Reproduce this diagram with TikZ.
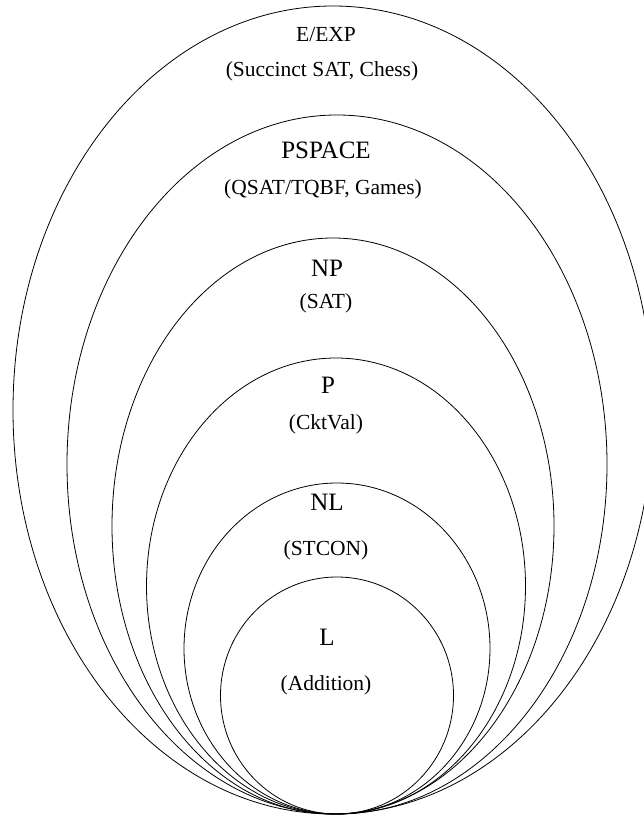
\documentclass[tikz,border=0pt]{standalone}
\usepackage{fontspec}
\setmainfont{Liberation Serif}
\begin{document}
\begin{tikzpicture}[x=1pt,y=-1pt,
  ring/.style={draw=black,line width=0.8pt},
  title/.style={anchor=base,inner sep=0pt,font=\fontsize{25}{30}\selectfont},
  sub/.style={anchor=base,inner sep=0pt,font=\fontsize{21.5}{26}\selectfont}]
\useasboundingbox (0,0) rectangle (644,816);
\clip (0,0) rectangle (644,816);
\fill[white] (0,0) rectangle (644,816);
% nested classes, all meeting at the bottom
\draw[ring] (333,410)   ellipse [x radius=320,   y radius=404];
\draw[ring] (337,464.5) ellipse [x radius=270,   y radius=349.5];
\draw[ring] (333,526)   ellipse [x radius=221,   y radius=288];
\draw[ring] (336,586)   ellipse [x radius=189.5, y radius=228];
\draw[ring] (337,648.5) ellipse [x radius=153,   y radius=165.5];
\draw[ring] (337,695.5) ellipse [x radius=116.5, y radius=118.5];
% labels
\node[sub]   (exp)     at (326,42)  {E/EXP};
\node[sub]   (expex)   at (322,77)  {(Succinct SAT, Chess)};
\node[title] (pspace)  at (326,158) {PSPACE};
\node[sub]   (pspex)   at (323,194) {(QSAT/TQBF, Games)};
\node[title] (np)      at (327,276) {NP};
\node[sub]   (npex)    at (326,308) {(SAT)};
\node[title] (p)       at (328,393) {P};
\node[sub]   (pex)     at (326,429) {(CktVal)};
\node[title] (nl)      at (327,510) {NL};
\node[sub]   (nlex)    at (326,555) {(STCON)};
\node[title] (l)       at (327,645) {L};
\node[sub]   (lex)     at (326,690) {(Addition)};
\end{tikzpicture}
\end{document}
